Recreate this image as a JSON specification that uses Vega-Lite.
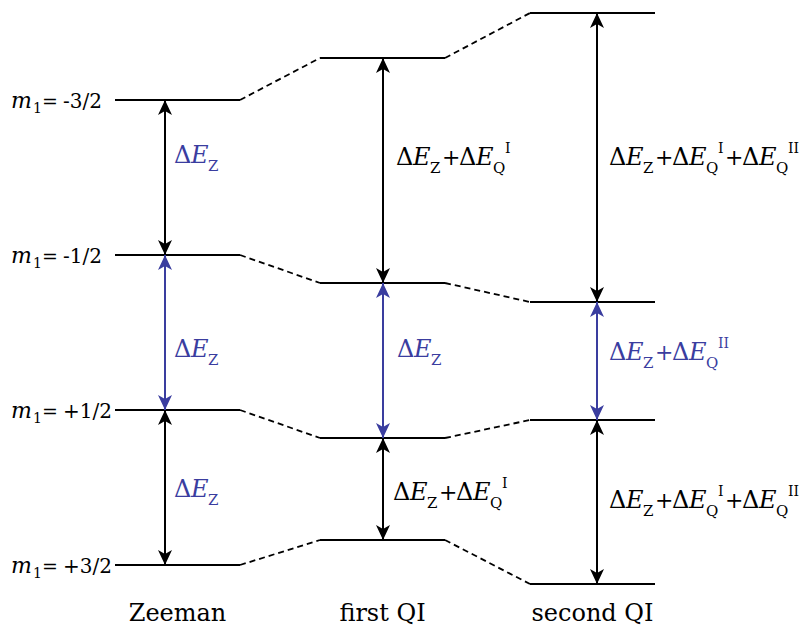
{
  "$schema": "https://vega.github.io/schema/vega-lite/v6.json",
  "width": 807,
  "height": 628,
  "autosize": {"type": "fit", "contains": "padding"},
  "padding": 0,
  "background": "white",
  "config": {"view": {"stroke": null}, "text": {"font": "DejaVu Serif"}},
  "datasets": {
    "levels": [
      {"stage": "Zeeman", "order": 0, "m": "-3/2", "mi": 0, "x1": 115, "x2": 240, "y": 100, "ax": 165},
      {"stage": "Zeeman", "order": 0, "m": "-1/2", "mi": 1, "x1": 115, "x2": 240, "y": 255, "ax": 165},
      {"stage": "Zeeman", "order": 0, "m": "+1/2", "mi": 2, "x1": 115, "x2": 240, "y": 410, "ax": 165},
      {"stage": "Zeeman", "order": 0, "m": "+3/2", "mi": 3, "x1": 115, "x2": 240, "y": 565, "ax": 165},
      {"stage": "first QI", "order": 1, "m": "-3/2", "mi": 0, "x1": 320, "x2": 445, "y": 58, "ax": 383},
      {"stage": "first QI", "order": 1, "m": "-1/2", "mi": 1, "x1": 320, "x2": 445, "y": 283, "ax": 383},
      {"stage": "first QI", "order": 1, "m": "+1/2", "mi": 2, "x1": 320, "x2": 445, "y": 438, "ax": 383},
      {"stage": "first QI", "order": 1, "m": "+3/2", "mi": 3, "x1": 320, "x2": 445, "y": 540, "ax": 383},
      {"stage": "second QI", "order": 2, "m": "-3/2", "mi": 0, "x1": 530, "x2": 655, "y": 13, "ax": 597},
      {"stage": "second QI", "order": 2, "m": "-1/2", "mi": 1, "x1": 530, "x2": 655, "y": 302, "ax": 597},
      {"stage": "second QI", "order": 2, "m": "+1/2", "mi": 2, "x1": 530, "x2": 655, "y": 420, "ax": 597},
      {"stage": "second QI", "order": 2, "m": "+3/2", "mi": 3, "x1": 530, "x2": 655, "y": 584, "ax": 597}
    ],
    "terms": [
      {"stage": "Zeeman", "term": "Z", "sup": "", "x": 174, "y": 163, "kind": "zeeman"},
      {"stage": "Zeeman", "term": "Z", "sup": "", "x": 174, "y": 357, "kind": "zeeman"},
      {"stage": "Zeeman", "term": "Z", "sup": "", "x": 174, "y": 497, "kind": "zeeman"},
      {"stage": "first QI", "term": "Z", "sup": "", "x": 396, "y": 165, "kind": "satellite"},
      {"stage": "first QI", "term": "Q", "sup": "I", "x": 442, "y": 165, "kind": "satellite"},
      {"stage": "first QI", "term": "Z", "sup": "", "x": 397, "y": 357, "kind": "central"},
      {"stage": "first QI", "term": "Z", "sup": "", "x": 393, "y": 500, "kind": "satellite"},
      {"stage": "first QI", "term": "Q", "sup": "I", "x": 439, "y": 500, "kind": "satellite"},
      {"stage": "second QI", "term": "Z", "sup": "", "x": 609, "y": 165, "kind": "satellite"},
      {"stage": "second QI", "term": "Q", "sup": "I", "x": 655, "y": 165, "kind": "satellite"},
      {"stage": "second QI", "term": "Q", "sup": "II", "x": 725, "y": 165, "kind": "satellite"},
      {"stage": "second QI", "term": "Z", "sup": "", "x": 609, "y": 360, "kind": "central"},
      {"stage": "second QI", "term": "Q", "sup": "II", "x": 655, "y": 360, "kind": "central"},
      {"stage": "second QI", "term": "Z", "sup": "", "x": 609, "y": 508, "kind": "satellite"},
      {"stage": "second QI", "term": "Q", "sup": "I", "x": 655, "y": 508, "kind": "satellite"},
      {"stage": "second QI", "term": "Q", "sup": "II", "x": 725, "y": 508, "kind": "satellite"}
    ]
  },
  "layer": [
    {
      "data": {"name": "levels"},
      "mark": {"type": "rule", "strokeWidth": 2, "color": "#000000"},
      "encoding": {
        "x": {"field": "x1", "type": "quantitative", "scale": {"domain": [0, 807], "nice": false, "zero": false}, "axis": null},
        "x2": {"field": "x2"},
        "y": {"field": "y", "type": "quantitative", "scale": {"domain": [0, 628], "nice": false, "zero": false, "reverse": true}, "axis": null}
      }
    },
    {
      "data": {"name": "levels"},
      "transform": [
        {"window": [{"op": "lead", "field": "x1", "as": "nx1"}, {"op": "lead", "field": "y", "as": "ny"}], "groupby": ["m"], "sort": [{"field": "order"}]},
        {"filter": "datum.ny != null"}
      ],
      "mark": {"type": "rule", "strokeWidth": 1.8, "strokeDash": [6, 4], "color": "#000000"},
      "encoding": {
        "x": {"field": "x2", "type": "quantitative", "scale": {"domain": [0, 807], "nice": false, "zero": false}, "axis": null},
        "x2": {"field": "nx1"},
        "y": {"field": "y", "type": "quantitative", "scale": {"domain": [0, 628], "nice": false, "zero": false, "reverse": true}, "axis": null},
        "y2": {"field": "ny"}
      }
    },
    {
      "data": {"name": "levels"},
      "transform": [
        {"window": [{"op": "lead", "field": "y", "as": "ny"}], "groupby": ["stage"], "sort": [{"field": "mi"}]},
        {"filter": "datum.ny != null"},
        {"calculate": "datum.m == '-1/2' ? 'central' : 'satellite'", "as": "kind"}
      ],
      "mark": {"type": "rule", "strokeWidth": 2},
      "encoding": {
        "x": {"field": "ax", "type": "quantitative", "scale": {"domain": [0, 807], "nice": false, "zero": false}, "axis": null},
        "y": {"field": "y", "type": "quantitative", "scale": {"domain": [0, 628], "nice": false, "zero": false, "reverse": true}, "axis": null},
        "y2": {"field": "ny"},
        "color": {"field": "kind", "type": "nominal", "scale": {"domain": ["satellite", "central", "zeeman"], "range": ["#000000", "#3a3d9f", "#3a3d9f"]}, "legend": null}
      }
    },
    {
      "data": {"name": "levels"},
      "transform": [
        {"window": [{"op": "lead", "field": "y", "as": "ny"}], "groupby": ["stage"], "sort": [{"field": "mi"}]},
        {"filter": "datum.ny != null"},
        {"calculate": "datum.m == '-1/2' ? 'central' : 'satellite'", "as": "kind"}
      ],
      "mark": {"type": "point", "shape": "M0,0L1.4,3L0,2.2L-1.4,3Z", "size": 100, "filled": true, "opacity": 1, "strokeWidth": 0},
      "encoding": {
        "x": {"field": "ax", "type": "quantitative", "scale": {"domain": [0, 807], "nice": false, "zero": false}, "axis": null},
        "y": {"field": "y", "type": "quantitative", "scale": {"domain": [0, 628], "nice": false, "zero": false, "reverse": true}, "axis": null},
        "color": {"field": "kind", "type": "nominal", "scale": {"domain": ["satellite", "central", "zeeman"], "range": ["#000000", "#3a3d9f", "#3a3d9f"]}, "legend": null}
      }
    },
    {
      "data": {"name": "levels"},
      "transform": [
        {"window": [{"op": "lead", "field": "y", "as": "ny"}], "groupby": ["stage"], "sort": [{"field": "mi"}]},
        {"filter": "datum.ny != null"},
        {"calculate": "datum.m == '-1/2' ? 'central' : 'satellite'", "as": "kind"}
      ],
      "mark": {"type": "point", "shape": "M0,0L1.4,-3L0,-2.2L-1.4,-3Z", "size": 100, "filled": true, "opacity": 1, "strokeWidth": 0},
      "encoding": {
        "x": {"field": "ax", "type": "quantitative", "scale": {"domain": [0, 807], "nice": false, "zero": false}, "axis": null},
        "y": {"field": "ny", "type": "quantitative", "scale": {"domain": [0, 628], "nice": false, "zero": false, "reverse": true}, "axis": null},
        "color": {"field": "kind", "type": "nominal", "scale": {"domain": ["satellite", "central", "zeeman"], "range": ["#000000", "#3a3d9f", "#3a3d9f"]}, "legend": null}
      }
    },
    {
      "data": {"name": "levels"},
      "transform": [{"filter": "datum.stage == 'Zeeman'"}],
      "mark": {"type": "text", "font": "DejaVu Serif", "text": "m", "fontStyle": "italic", "fontSize": 22, "align": "left", "baseline": "alphabetic", "dx": -104, "dy": 8, "color": "#000000"},
      "encoding": {
        "x": {"field": "x1", "type": "quantitative", "scale": {"domain": [0, 807], "nice": false, "zero": false}, "axis": null},
        "y": {"field": "y", "type": "quantitative", "scale": {"domain": [0, 628], "nice": false, "zero": false, "reverse": true}, "axis": null}
      }
    },
    {
      "data": {"name": "levels"},
      "transform": [{"filter": "datum.stage == 'Zeeman'"}],
      "mark": {"type": "text", "font": "DejaVu Serif", "text": "1", "fontSize": 14, "align": "left", "baseline": "alphabetic", "dx": -82, "dy": 13, "color": "#000000"},
      "encoding": {
        "x": {"field": "x1", "type": "quantitative", "scale": {"domain": [0, 807], "nice": false, "zero": false}, "axis": null},
        "y": {"field": "y", "type": "quantitative", "scale": {"domain": [0, 628], "nice": false, "zero": false, "reverse": true}, "axis": null}
      }
    },
    {
      "data": {"name": "levels"},
      "transform": [{"filter": "datum.stage == 'Zeeman'"}],
      "mark": {"type": "text", "font": "DejaVu Serif", "text": "=", "fontSize": 19, "align": "left", "baseline": "alphabetic", "dx": -73, "dy": 8, "color": "#000000"},
      "encoding": {
        "x": {"field": "x1", "type": "quantitative", "scale": {"domain": [0, 807], "nice": false, "zero": false}, "axis": null},
        "y": {"field": "y", "type": "quantitative", "scale": {"domain": [0, 628], "nice": false, "zero": false, "reverse": true}, "axis": null}
      }
    },
    {
      "data": {"name": "levels"},
      "transform": [{"filter": "datum.stage == 'Zeeman'"}],
      "mark": {"type": "text", "font": "DejaVu Serif", "fontSize": 20, "align": "left", "baseline": "alphabetic", "dx": -52, "dy": 8, "color": "#000000"},
      "encoding": {
        "text": {"field": "m"},
        "x": {"field": "x1", "type": "quantitative", "scale": {"domain": [0, 807], "nice": false, "zero": false}, "axis": null},
        "y": {"field": "y", "type": "quantitative", "scale": {"domain": [0, 628], "nice": false, "zero": false, "reverse": true}, "axis": null}
      }
    },
    {
      "data": {"name": "levels"},
      "transform": [
        {"filter": "datum.mi == 3"},
        {"calculate": "(datum.x1 + datum.x2) / 2", "as": "xc"}
      ],
      "mark": {"type": "text", "font": "DejaVu Serif", "fontSize": 24, "align": "center", "baseline": "alphabetic", "color": "#000000"},
      "encoding": {
        "text": {"field": "stage"},
        "x": {"field": "xc", "type": "quantitative", "scale": {"domain": [0, 807], "nice": false, "zero": false}, "axis": null},
        "y": {"datum": 621, "type": "quantitative", "scale": {"domain": [0, 628], "nice": false, "zero": false, "reverse": true}, "axis": null}
      }
    },
    {
      "data": {"name": "terms"},
      "transform": [{"filter": "datum.term == 'Z'"}],
      "mark": {"type": "text", "font": "DejaVu Serif", "text": "Δ", "fontSize": 24, "align": "left", "baseline": "alphabetic", "dx": 0},
      "encoding": {
        "x": {"field": "x", "type": "quantitative", "scale": {"domain": [0, 807], "nice": false, "zero": false}, "axis": null},
        "y": {"field": "y", "type": "quantitative", "scale": {"domain": [0, 628], "nice": false, "zero": false, "reverse": true}, "axis": null},
        "color": {"field": "kind", "type": "nominal", "scale": {"domain": ["satellite", "central", "zeeman"], "range": ["#000000", "#3a3d9f", "#3a3d9f"]}, "legend": null}
      }
    },
    {
      "data": {"name": "terms"},
      "transform": [{"filter": "datum.term == 'Z'"}],
      "mark": {"type": "text", "font": "DejaVu Serif", "text": "E", "fontStyle": "italic", "fontSize": 24, "align": "left", "baseline": "alphabetic", "dx": 17},
      "encoding": {
        "x": {"field": "x", "type": "quantitative", "scale": {"domain": [0, 807], "nice": false, "zero": false}, "axis": null},
        "y": {"field": "y", "type": "quantitative", "scale": {"domain": [0, 628], "nice": false, "zero": false, "reverse": true}, "axis": null},
        "color": {"field": "kind", "type": "nominal", "scale": {"domain": ["satellite", "central", "zeeman"], "range": ["#000000", "#3a3d9f", "#3a3d9f"]}, "legend": null}
      }
    },
    {
      "data": {"name": "terms"},
      "transform": [{"filter": "datum.term == 'Z'"}],
      "mark": {"type": "text", "font": "DejaVu Serif", "text": "Z", "fontSize": 15, "align": "left", "baseline": "alphabetic", "dx": 34, "dy": 8},
      "encoding": {
        "x": {"field": "x", "type": "quantitative", "scale": {"domain": [0, 807], "nice": false, "zero": false}, "axis": null},
        "y": {"field": "y", "type": "quantitative", "scale": {"domain": [0, 628], "nice": false, "zero": false, "reverse": true}, "axis": null},
        "color": {"field": "kind", "type": "nominal", "scale": {"domain": ["satellite", "central", "zeeman"], "range": ["#000000", "#3a3d9f", "#3a3d9f"]}, "legend": null}
      }
    },
    {
      "data": {"name": "terms"},
      "transform": [{"filter": "datum.term == 'Q'"}],
      "mark": {"type": "text", "font": "DejaVu Serif", "text": "+", "fontSize": 22, "align": "left", "baseline": "alphabetic", "dx": 0},
      "encoding": {
        "x": {"field": "x", "type": "quantitative", "scale": {"domain": [0, 807], "nice": false, "zero": false}, "axis": null},
        "y": {"field": "y", "type": "quantitative", "scale": {"domain": [0, 628], "nice": false, "zero": false, "reverse": true}, "axis": null},
        "color": {"field": "kind", "type": "nominal", "scale": {"domain": ["satellite", "central", "zeeman"], "range": ["#000000", "#3a3d9f", "#3a3d9f"]}, "legend": null}
      }
    },
    {
      "data": {"name": "terms"},
      "transform": [{"filter": "datum.term == 'Q'"}],
      "mark": {"type": "text", "font": "DejaVu Serif", "text": "Δ", "fontSize": 24, "align": "left", "baseline": "alphabetic", "dx": 17},
      "encoding": {
        "x": {"field": "x", "type": "quantitative", "scale": {"domain": [0, 807], "nice": false, "zero": false}, "axis": null},
        "y": {"field": "y", "type": "quantitative", "scale": {"domain": [0, 628], "nice": false, "zero": false, "reverse": true}, "axis": null},
        "color": {"field": "kind", "type": "nominal", "scale": {"domain": ["satellite", "central", "zeeman"], "range": ["#000000", "#3a3d9f", "#3a3d9f"]}, "legend": null}
      }
    },
    {
      "data": {"name": "terms"},
      "transform": [{"filter": "datum.term == 'Q'"}],
      "mark": {"type": "text", "font": "DejaVu Serif", "text": "E", "fontStyle": "italic", "fontSize": 24, "align": "left", "baseline": "alphabetic", "dx": 34},
      "encoding": {
        "x": {"field": "x", "type": "quantitative", "scale": {"domain": [0, 807], "nice": false, "zero": false}, "axis": null},
        "y": {"field": "y", "type": "quantitative", "scale": {"domain": [0, 628], "nice": false, "zero": false, "reverse": true}, "axis": null},
        "color": {"field": "kind", "type": "nominal", "scale": {"domain": ["satellite", "central", "zeeman"], "range": ["#000000", "#3a3d9f", "#3a3d9f"]}, "legend": null}
      }
    },
    {
      "data": {"name": "terms"},
      "transform": [{"filter": "datum.term == 'Q'"}],
      "mark": {"type": "text", "font": "DejaVu Serif", "text": "Q", "fontSize": 15, "align": "left", "baseline": "alphabetic", "dx": 51, "dy": 8},
      "encoding": {
        "x": {"field": "x", "type": "quantitative", "scale": {"domain": [0, 807], "nice": false, "zero": false}, "axis": null},
        "y": {"field": "y", "type": "quantitative", "scale": {"domain": [0, 628], "nice": false, "zero": false, "reverse": true}, "axis": null},
        "color": {"field": "kind", "type": "nominal", "scale": {"domain": ["satellite", "central", "zeeman"], "range": ["#000000", "#3a3d9f", "#3a3d9f"]}, "legend": null}
      }
    },
    {
      "data": {"name": "terms"},
      "transform": [{"filter": "datum.term == 'Q'"}],
      "mark": {"type": "text", "font": "DejaVu Serif", "fontSize": 14, "align": "left", "baseline": "alphabetic", "dx": 63, "dy": -12},
      "encoding": {
        "text": {"field": "sup"},
        "x": {"field": "x", "type": "quantitative", "scale": {"domain": [0, 807], "nice": false, "zero": false}, "axis": null},
        "y": {"field": "y", "type": "quantitative", "scale": {"domain": [0, 628], "nice": false, "zero": false, "reverse": true}, "axis": null},
        "color": {"field": "kind", "type": "nominal", "scale": {"domain": ["satellite", "central", "zeeman"], "range": ["#000000", "#3a3d9f", "#3a3d9f"]}, "legend": null}
      }
    }
  ]
}
